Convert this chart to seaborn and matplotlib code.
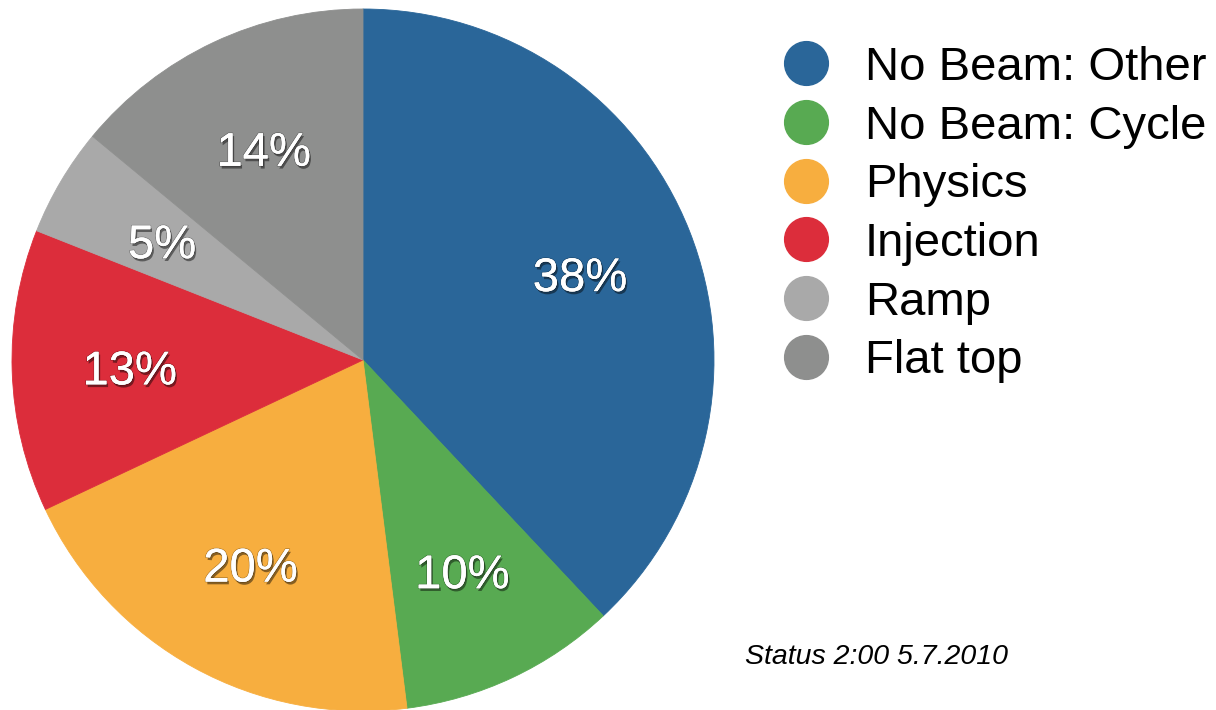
import matplotlib
matplotlib.use("Agg")
import matplotlib.pyplot as plt
import matplotlib.patheffects as pe
from matplotlib.lines import Line2D
import seaborn as sns

# Share of machine time per mode
categories = ["No Beam: Other", "No Beam: Cycle", "Physics", "Injection", "Ramp", "Flat top"]
shares = [38, 10, 20, 13, 5, 14]
colors = ["#2a6699", "#58aa52", "#f7ae3f", "#dc2d3b", "#a9a9a9", "#8e8f8e"]
status_note = "Status 2:00 5.7.2010"

sns.set_theme(style="white")
plt.rcParams["font.family"] = ["Liberation Sans", "DejaVu Sans"]
plt.rcParams["text.color"] = "black"

W, H = 1216, 710
fig = plt.figure(figsize=(W / 100, H / 100), dpi=100)
fig.patch.set_facecolor("white")

# Pie occupies a square region on the left (pixel based placement)
R = 351
cx, cy = 363, 360
ax = fig.add_axes([(cx - R) / W, (H - cy - R) / H, 2 * R / W, 2 * R / H])

wedges, texts, autotexts = ax.pie(
    shares,
    colors=colors,
    startangle=90,
    counterclock=False,
    autopct="%d%%",
    pctdistance=0.665,
    wedgeprops=dict(linewidth=0.6, antialiased=True),
    textprops=dict(color="white", fontsize=34),
)
for w, c in zip(wedges, colors):
    w.set_edgecolor(c)

shadow = [
    pe.SimplePatchShadow(offset=(1.2, -2.0), shadow_rgbFace="#000000", alpha=0.45),
    pe.withStroke(linewidth=1.2, foreground=(0, 0, 0, 0.25)),
    pe.Normal(),
]
for t in autotexts:
    t.set_path_effects(shadow)
    t.set_va("center_baseline")

ax.set_xlim(-1, 1)
ax.set_ylim(-1, 1)
ax.set_aspect("equal")
ax.axis("off")

# Legend with round markers on the right
handles = [
    Line2D([], [], linestyle="none", marker="o", markersize=31.5,
           markerfacecolor=c, markeredgecolor=c)
    for c in colors
]
fig.legend(
    handles, categories,
    loc="upper left",
    bbox_to_anchor=(782 / W, 1 - 46 / H),
    bbox_transform=fig.transFigure,
    frameon=False,
    fontsize=34,
    labelcolor="black",
    handlelength=1.0,
    handletextpad=0.75,
    labelspacing=0.31,
    borderpad=0,
    borderaxespad=0,
)

fig.text(745 / W, 1 - 657 / H, status_note, fontsize=20.5, style="italic",
         ha="left", va="center", color="black")

fig.savefig("out.png", dpi=100, facecolor="white")
